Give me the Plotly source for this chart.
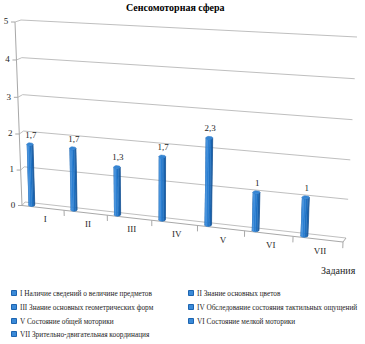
import numpy as np
import plotly.graph_objects as go

# ---------------- data ----------------
tasks = ["I", "II", "III", "IV", "V", "VI", "VII"]
scores = [1.7, 1.7, 1.3, 1.7, 2.3, 1.0, 1.0]
score_text = ["1,7", "1,7", "1,3", "1,7", "2,3", "1", "1"]
value_ticks = [0, 1, 2, 3, 4, 5]
task_names = [
    "I Наличие сведений о величине предметов",
    "II Знание основных цветов",
    "III Знание основных геометрических форм",
    "IV Обследование состояния тактильных ощущений",
    "V Состояние общей моторики",
    "VI Состояние мелкой моторики",
    "VII Зрительно-двигательная координация",
]
chart_title = "Сенсомоторная сфера"
category_title = "Задания"

# ---------------- perspective frame ----------------
W, H = 365, 344
N = len(tasks)
VMAX = value_ticks[-1]
FONT = "'Liberation Serif', 'Times New Roman', serif"
TEXT = "#1e1e1e"
GRID = "#bfbfbf"


def homography(src, dst):
    A, b = [], []
    for (u, v), (x, y) in zip(src, dst):
        A.append([u, v, 1, 0, 0, 0, -u * x, -v * x]); b.append(x)
        A.append([0, 0, 0, u, v, 1, -u * y, -v * y]); b.append(y)
    h = np.linalg.solve(np.array(A, float), np.array(b, float))
    return np.append(h, 1.0).reshape(3, 3)


frame = [(0, 0), (N, 0), (0, VMAX), (N, VMAX)]
back_wall = homography(frame, [(25, 202), (346, 238), (21, 20), (357, 37)])
front_plane = homography(frame, [(22, 205.5), (343, 242), (15, 22), (351, 40)])


def proj(s, v, d):
    """category position s, value v, depth d (0 = back wall, 1 = front edge)"""
    out = []
    for Hm in (back_wall, front_plane):
        p = Hm @ np.array([s, v, 1.0])
        out.append(p[:2] / p[2])
    return (1 - d) * out[0] + d * out[1]


def polyline(points):
    xs, ys = [], []
    for seg in points:
        for p in seg:
            xs.append(p[0]); ys.append(p[1])
        xs.append(None); ys.append(None)
    return xs, ys


fig = go.Figure()

# gridlines: side wall + back wall
grid = [[proj(0, v, 1), proj(0, v, 0), proj(N, v, 0)] for v in value_ticks]
gx, gy = polyline(grid)
fig.add_trace(go.Scatter(x=gx, y=gy, mode="lines", line=dict(color=GRID, width=1),
                         hoverinfo="skip", showlegend=False))

# value axis, its ticks, floor front edge and category ticks
axis_segs = [[proj(0, 0, 1), proj(0, VMAX, 1)]]
axis_segs += [[proj(0, v, 1), proj(0, v, 1) - np.array([4, 0])] for v in value_ticks]
axis_segs += [[proj(0, 0, 1), proj(N, 0, 1)], [proj(N, 0, 0), proj(N, 0, 1)]]
axis_segs += [[proj(k, 0, 1), proj(k, -0.16, 1)] for k in range(1, N + 1)]
ax_x, ax_y = polyline(axis_segs)
fig.add_trace(go.Scatter(x=ax_x, y=ax_y, mode="lines", line=dict(color="#a8a8a8", width=1),
                         hoverinfo="skip", showlegend=False))

# value tick labels
tl = [proj(0, v, 1) - np.array([9, 0]) for v in value_ticks]
fig.add_trace(go.Scatter(x=[p[0] for p in tl], y=[p[1] for p in tl], mode="text",
                         text=[str(v) for v in value_ticks], textposition="middle center",
                         textfont=dict(family=FONT, size=9, color=TEXT),
                         hoverinfo="skip", showlegend=False))

# category labels
cl = [proj(i + 0.55, -0.33, 1) for i in range(N)]
fig.add_trace(go.Scatter(x=[p[0] for p in cl], y=[p[1] for p in cl], mode="text",
                         text=tasks, textposition="middle center",
                         textfont=dict(family=FONT, size=9, color=TEXT),
                         hoverinfo="skip", showlegend=False))

# cylinder bars
band_colors = ["#1a66b5", "#3a8cdc", "#2b7fd2", "#1f71c2", "#1762ae", "#0f4d90"]
cap_color = "#3686d4"
BAR_S, BAR_D, BAR_HALF, RY = 0.2, 0.55, 0.075, 1.6
label_pts = []
for i, val in enumerate(scores):
    sc = i + BAR_S
    bot = proj(sc, 0, BAR_D)
    top = proj(sc, val, BAR_D)
    hw = (proj(sc + BAR_HALF, 0, BAR_D)[0] - proj(sc - BAR_HALF, 0, BAR_D)[0]) / 2
    phis = np.linspace(np.pi, 0, len(band_colors) + 1)
    for k, col in enumerate(band_colors):
        ph = np.linspace(phis[k], phis[k + 1], 6)
        xb = bot[0] + hw * np.cos(ph); yb = bot[1] + RY * np.sin(ph)
        xt = top[0] + hw * np.cos(ph[::-1]); yt = top[1] + RY * np.sin(ph[::-1])
        fig.add_trace(go.Scatter(x=list(xb) + list(xt), y=list(yb) + list(yt),
                                 mode="lines", fill="toself", fillcolor=col,
                                 line=dict(width=0.6, color=col),
                                 hoverinfo="skip", showlegend=False))
    th = np.linspace(0, 2 * np.pi, 25)
    fig.add_trace(go.Scatter(x=top[0] + hw * np.cos(th), y=top[1] + RY * np.sin(th),
                             mode="lines", fill="toself", fillcolor=cap_color,
                             line=dict(width=0.5, color="#2a78c8"),
                             hoverinfo="skip", showlegend=False))
    label_pts.append(top - np.array([-1, 9]))

# value labels over the bars
fig.add_trace(go.Scatter(x=[p[0] for p in label_pts], y=[p[1] for p in label_pts],
                         mode="text", text=score_text, textposition="middle center",
                         textfont=dict(family=FONT, size=9, color=TEXT),
                         hoverinfo="skip", showlegend=False))

# category axis title
ct = proj(N, -0.75, 1)
fig.add_annotation(x=ct[0] - 3, y=ct[1], text=category_title, showarrow=False,
                   xanchor="center", yanchor="middle",
                   font=dict(family=FONT, size=10, color=TEXT))

# legend: two columns of task descriptions
leg_cols = [14, 191]
leg_rows = [293, 307, 321, 334]
for k, name in enumerate(task_names):
    lx = leg_cols[k % 2]
    ly = leg_rows[k // 2]
    fig.add_trace(go.Scatter(x=[lx], y=[ly], mode="markers",
                             marker=dict(symbol="square", size=5, color="#3a8ad8",
                                         line=dict(color="#1d64b0", width=1)),
                             hoverinfo="skip", showlegend=False))
    fig.add_annotation(x=lx + 3.5, y=ly, text=name, showarrow=False,
                       xanchor="left", yanchor="middle",
                       font=dict(family=FONT, size=7.3, color=TEXT))

fig.add_annotation(x=175, y=7, text="<b>" + chart_title + "</b>", showarrow=False,
                   xanchor="center", yanchor="middle",
                   font=dict(family=FONT, size=10, color="#000000"))

fig.update_layout(
    width=W, height=H,
    margin=dict(l=0, r=0, t=0, b=0),
    paper_bgcolor="white", plot_bgcolor="white",
    xaxis=dict(range=[0, W], visible=False, fixedrange=True),
    yaxis=dict(range=[H, 0], visible=False, fixedrange=True),
    showlegend=False,
)

fig.write_html("out.html")
